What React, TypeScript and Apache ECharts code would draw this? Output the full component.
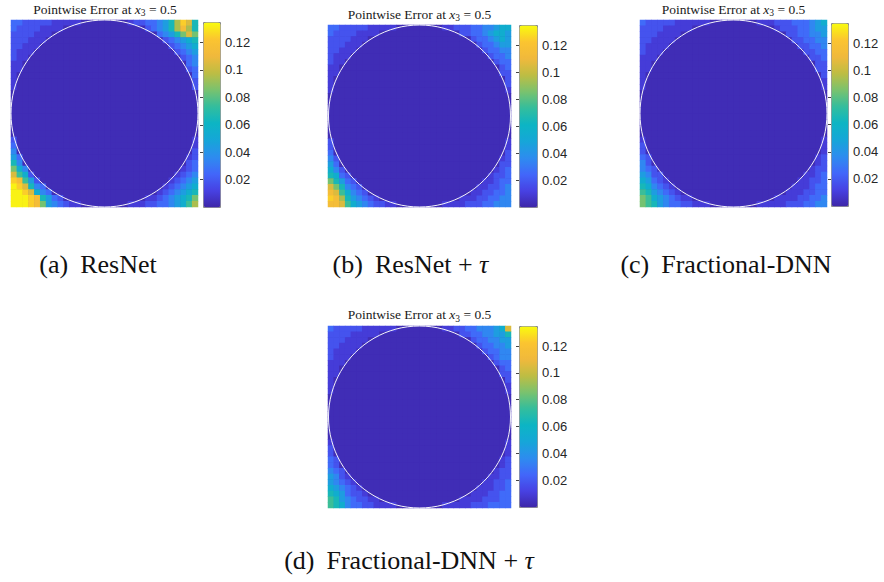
import React, { useEffect, useRef } from 'react';
import * as echarts from 'echarts';

// ---- data -----------------------------------------------------------
// Each panel is a 32 x 32 grid of error levels.
// A row is written "LEFT|RIGHT": the characters at the left and right
// ends of the row; the cells in between are level '0' (inside the circle).
const N = 32;
const LEVEL_KEYS = '0123456789abcde';
const LEVEL_VALUES = [0.003, 0.01, 0.018, 0.026, 0.035, 0.045, 0.055, 0.065, 0.075, 0.085, 0.095, 0.105, 0.115, 0.125, 0.133];

const RESNET_ROWS = [
  '332222211111|12233457adb7',
  '322221111|23457aca7',
  '2222111|34579b9',
  '222111|234567',
  '22111|23456',
  '2111|2345',
  '211|234',
  '11|34',
  '11|23',
  '1|3',
  '1|2',
  '1|2',
  '|', '|', '|', '|', '|', '|', '|', '|',
  '2|1',
  '3|1',
  '4|2',
  '53|12',
  '74|23',
  '964|123',
  'b862|1234',
  'dc852|12345',
  'edb743|123456',
  'eedb643|1234567',
  'eeedc7532|112345679',
  'eeedc9543211|11122334568a',
];

const RESNET_TAU_ROWS = [
  '332222211111|112223344566',
  '322221111|223345665',
  '2222111|2334565',
  '222111|233455',
  '22111|23344',
  '2111|2334',
  '211|233',
  '11|23',
  '11|22',
  '1|2',
  '1|2',
  '1|1',
  '|', '|', '|', '|', '|', '|', '|', '|',
  '2|1',
  '2|1',
  '3|2',
  '42|12',
  '53|22',
  '642|123',
  '7632|1223',
  '97532|11233',
  'b97432|112234',
  'cb86432|1122334',
  'dca754321|111223344',
  'ccb865432211|111122233444',
];

const FRAC_ROWS = [
  '322222111111|111222333456',
  '222211111|122233455',
  '2221111|2233445',
  '221111|223344',
  '21111|22334',
  '2111|2233',
  '111|223',
  '11|22',
  '11|22',
  '1|2',
  '1|1',
  '1|1',
  '|', '|', '|', '|', '|', '|', '|', '|',
  '1|1',
  '2|1',
  '2|1',
  '32|12',
  '42|12',
  '432|122',
  '5422|1123',
  '65321|11223',
  '764321|111233',
  '8754321|1112233',
  '986543211|111122334',
  '987543322111|111112223344',
];

const FRAC_TAU_ROWS = [
  '322222111111|11223344456b',
  '222211111|223344557',
  '2221111|2334455',
  '221111|233445',
  '21111|23344',
  '2111|2344',
  '111|233',
  '11|23',
  '11|22',
  '1|2',
  '1|1',
  '1|1',
  '|', '|', '|', '|', '|', '|', '|', '|',
  '1|1',
  '2|1',
  '2|1',
  '32|12',
  '32|12',
  '432|122',
  '5421|1122',
  '54321|11223',
  '654321|111223',
  '7653221|1112233',
  '875432211|111122233',
  '876433221111|111112223333',
];

const PANEL_ROWS = [RESNET_ROWS, RESNET_TAU_ROWS, FRAC_ROWS, FRAC_TAU_ROWS];
const TITLE = 'Pointwise Error at {i|x}{s|3} = 0.5';
const CAPTIONS = [
  '(a){g|}ResNet',
  '(b){g|}ResNet + {i|τ}',
  '(c){g|}Fractional-DNN',
  '(d){g|}Fractional-DNN + {i|τ}',
];
const COLORBAR_TICKS = [0.02, 0.04, 0.06, 0.08, 0.1, 0.12];
const CB_MIN = 0;
const CB_MAX = 0.135;
const CB_INTERVAL = 0.02;

// ---- layout / style -------------------------------------------------
const PARULA = [
  '#3e26a8', '#4741e3', '#4267fa', '#2d8cef', '#16a6d8', '#0cb5c4',
  '#33bd9d', '#7ac26e', '#bebd43', '#f0b93c', '#fbc430', '#f9fb0e',
];
const SERIF = '"Liberation Serif", "DejaVu Serif", serif';
const SANS = '"Liberation Sans", Arial, sans-serif';

const LAYOUT = [
  { hx: 11, hy: 20, hw: 187, hh: 187, cx: 203, cy: 22, cw: 17, ch: 185, tx: 105, ty: 9, capX: 98, capY: 264 },
  { hx: 328, hy: 25, hw: 183, hh: 182, cx: 519, cy: 25, cw: 18, ch: 182, tx: 419.5, ty: 14, capX: 410.5, capY: 264 },
  { hx: 640, hy: 20, hw: 187, hh: 187, cx: 831, cy: 23, cw: 17, ch: 183, tx: 733.5, ty: 9, capX: 726, capY: 264 },
  { hx: 328, hy: 326, hw: 183, hh: 182, cx: 519, cy: 326, cw: 18, ch: 181, tx: 419.5, ty: 314.5, capX: 409, capY: 560 },
];

function rowsToData(rows: string[]) {
  const out: [number, number, number][] = [];
  rows.forEach((row, r) => {
    const [left, right] = row.split('|');
    const full = left + '0'.repeat(N - left.length - right.length) + right;
    for (let i = 0; i < N; i++) {
      out.push([i, r, LEVEL_VALUES[LEVEL_KEYS.indexOf(full[i])]]);
    }
  });
  return out;
}

export default function App() {
  const ref = useRef<HTMLDivElement>(null);

  useEffect(() => {
    if (!ref.current) return;
    const chart = echarts.init(ref.current, undefined, { renderer: 'svg' });
    const cats = Array.from({ length: N }, (_, i) => String(i));

    const grid: any[] = [];
    const xAxis: any[] = [];
    const yAxis: any[] = [];
    const series: any[] = [];
    const visualMap: any[] = [];
    const graphic: any[] = [];

    LAYOUT.forEach((L, k) => {
      // heatmap grid
      grid.push({ left: L.hx, top: L.hy, width: L.hw, height: L.hh, show: true, backgroundColor: '#3e27a9', borderWidth: 0 });
      xAxis.push({ type: 'category', gridIndex: 2 * k, data: cats, show: false });
      yAxis.push({ type: 'category', gridIndex: 2 * k, data: cats, show: false, inverse: true });
      // colorbar axis grid
      grid.push({ left: L.cx, top: L.cy, width: L.cw, height: L.ch, show: false });
      xAxis.push({ type: 'value', gridIndex: 2 * k + 1, show: false });
      yAxis.push({
        type: 'value', gridIndex: 2 * k + 1, position: 'right',
        min: CB_MIN, max: CB_MAX, interval: CB_INTERVAL,
        axisLine: { show: false },
        splitLine: { show: false },
        axisTick: { show: true, inside: true, length: 3, lineStyle: { color: '#444', width: 1 } },
        axisLabel: {
          margin: 5, fontSize: 13, fontFamily: SANS, color: '#262626',
          showMaxLabel: false, showMinLabel: false,
          formatter: (v: number) => {
            const t = COLORBAR_TICKS.find((c) => Math.abs(c - v) < 1e-9);
            return t === undefined ? '' : String(t);
          },
        },
      });

      series.push({
        type: 'heatmap',
        xAxisIndex: 2 * k,
        yAxisIndex: 2 * k,
        data: rowsToData(PANEL_ROWS[k]),
        itemStyle: { borderWidth: 0 },
        emphasis: { disabled: true },
        progressive: 0,
        silent: true,
      });

      visualMap.push({
        type: 'continuous',
        seriesIndex: k,
        min: CB_MIN,
        max: CB_MAX,
        calculable: false,
        hoverLink: false,
        orient: 'vertical',
        left: L.cx,
        top: L.cy,
        itemWidth: L.cw,
        itemHeight: L.ch,
        padding: 0,
        borderWidth: 1,
        borderColor: '#8a8a8a',
        text: null,
        inRange: { color: PARULA },
      });

      const r = Math.min(L.hw, L.hh) / 2;
      graphic.push({
        type: 'circle', z: 100, silent: true,
        shape: { cx: L.hx + L.hw / 2, cy: L.hy + L.hh / 2, r },
        style: { fill: 'none', stroke: '#f4f4fa', lineWidth: 1 },
      });
      graphic.push({
        type: 'text', z: 100, x: L.tx, y: L.ty,
        style: {
          text: TITLE, fontFamily: SERIF, fontSize: 13.5, fill: '#1a1a1a',
          align: 'center', verticalAlign: 'middle', lineHeight: 18,
          rich: {
            i: { fontFamily: SERIF, fontStyle: 'italic', fontSize: 13.5, lineHeight: 18, fill: '#1a1a1a' },
            s: { fontFamily: SERIF, fontSize: 9.5, lineHeight: 10, verticalAlign: 'bottom', fill: '#1a1a1a' },
          },
        },
      });
      graphic.push({
        type: 'text', z: 100, x: L.capX, y: L.capY,
        style: {
          text: CAPTIONS[k], fontFamily: SERIF, fontSize: 26, fill: '#111',
          align: 'center', verticalAlign: 'middle',
          rich: {
            g: { width: 12 },
            i: { fontFamily: SERIF, fontStyle: 'italic', fontSize: 26, fill: '#111' },
          },
        },
      });
    });

    chart.setOption({
      animation: false,
      backgroundColor: '#ffffff',
      grid, xAxis, yAxis, series, visualMap, graphic,
    });
    return () => chart.dispose();
  }, []);

  return <div ref={ref} style={{ position: 'absolute', left: 0, top: 0, width: 884, height: 582, background: '#fff' }} />;
}
